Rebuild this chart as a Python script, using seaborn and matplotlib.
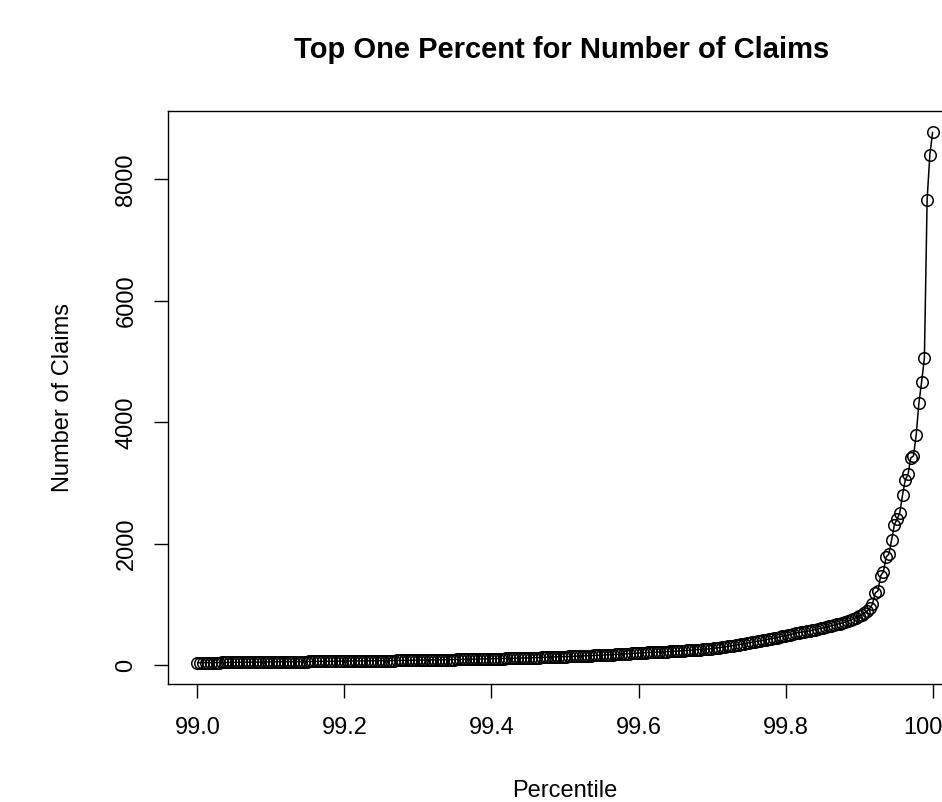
import numpy as np
import pandas as pd
from matplotlib import pyplot as plt
import seaborn as sns

# sorted claim counts in the top one percent
claims_low = [
    40, 41, 41, 42, 42, 43, 43, 44, 44, 45, 45, 46, 46, 47, 47, 48, 48, 49, 49, 50,
    50, 51, 51, 52, 52, 53, 54,
    55, 55, 56, 56, 56, 57, 57, 58, 58, 58, 59, 59, 60, 60, 61, 61, 62, 62, 63, 63,
    64, 64, 65, 65, 66, 66, 67,
    68, 68, 69, 69, 70, 70, 71, 71, 72, 72, 73, 73, 74, 74, 75, 75, 76, 76, 77, 78,
    78, 79, 80, 80, 81, 82, 83,
    84, 85, 85, 86, 87, 87, 88, 89, 89, 90, 91, 91, 92, 93, 94, 94, 95, 96, 97, 97,
    98, 99, 100, 101, 102, 103, 104,
    105, 106, 108, 108, 109, 111, 112, 113, 114, 116, 117, 118, 119, 121, 122, 123,
    125, 126, 128, 129, 131, 133, 134, 136, 138, 139,
]
claims_mid = [
    140, 142, 144, 145, 147, 149, 150, 152, 154, 156, 158, 160, 162, 163, 165, 167,
    170, 172, 174, 177, 179, 182, 185, 188, 191, 194, 198,
    200, 203, 205, 206, 209, 211, 213, 215, 217, 219, 221, 223, 226, 228,
    231, 233, 237, 240, 242, 246, 249, 251, 255, 258, 261, 264, 268,
    272, 279, 284, 291, 297, 303, 310, 316, 324, 331, 338, 347, 355,
    362, 371, 377, 386, 395, 401, 411, 419, 429, 436, 447, 455, 466, 475,
    483, 494, 505, 518, 530, 538, 544, 550, 558, 566, 576, 585, 595, 605,
    616, 626, 639, 649, 662, 672, 686, 697, 710,
    725, 742, 760, 780, 802, 828, 856, 890, 935,
]
claims_tail = [
    1006, 1187, 1225, 1473, 1538, 1781, 1830, 2061, 2309, 2407, 2511, 2803,
    3050, 3141, 3413, 3446, 3793, 4320, 4672, 5062, 7668, 8410, 8778,
]

claims = claims_low + claims_mid + claims_tail
percentile = np.linspace(99, 100, len(claims))

df = pd.DataFrame({'Percentile': percentile, 'Claims': claims})

sns.set_style('ticks')
plt.rcParams['font.family'] = ['Liberation Sans', 'DejaVu Sans']
plt.rcParams['text.color'] = 'black'
plt.rcParams['axes.labelcolor'] = 'black'

fig = plt.figure(figsize=(9.42, 8.02), dpi=100)
ax = fig.add_axes([168 / 942, 1 - 684 / 802, (962 - 168) / 942, (684 - 111) / 802])

sns.lineplot(data=df, x='Percentile', y='Claims', ax=ax, color='black', lw=1.1,
             marker='o', markersize=8.3, markerfacecolor='none',
             markeredgecolor='black', markeredgewidth=1.1)

ax.set_xlim(98.96, 100.04)
ax.set_ylim(-310, 9128)
ax.set_xticks([99.0, 99.2, 99.4, 99.6, 99.8, 100.0])
ax.set_xticklabels(['99.0', '99.2', '99.4', '99.6', '99.8', '100.0'])
ax.set_yticks([0, 2000, 4000, 6000, 8000])
ax.set_yticklabels(['0', '2000', '4000', '6000', '8000'], rotation=90, va='center')

for s in ax.spines.values():
    s.set_color('black')
    s.set_linewidth(1)
ax.tick_params(axis='both', direction='out', length=10, width=1, color='black',
               labelsize=17, labelcolor='black')
ax.tick_params(axis='x', pad=14)
ax.tick_params(axis='y', pad=12)

ax.set_xlabel('Percentile', fontsize=17, labelpad=29)
ax.set_ylabel('Number of Claims', fontsize=17, labelpad=30)
ax.set_title('Top One Percent for Number of Claims', fontsize=21, color='black',
             fontweight='bold', pad=38, x=(562 - 168) / (962 - 168))

fig.savefig('out.png', dpi=100)
